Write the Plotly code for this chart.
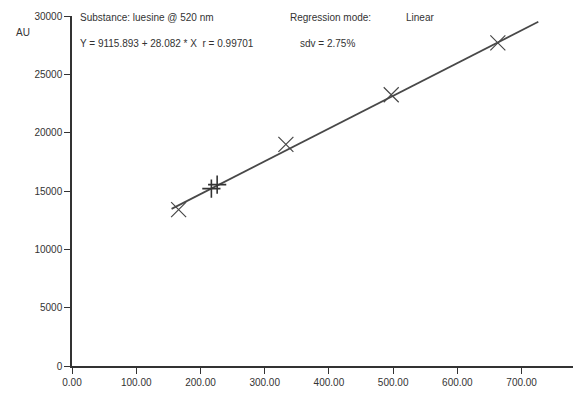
import plotly.graph_objects as go

# Calibration standards (X markers) and sample spots (+ markers)
std_amount = [166, 333, 497, 663]
std_area = [13400, 19000, 23250, 27700]
smp_amount = [217, 226]
smp_area = [15200, 15550]

# Regression line
intercept = 9115.893
slope = 28.082
line_x = [155, 726]
line_y = [intercept + slope * v for v in line_x]

x_ticks = [0, 100, 200, 300, 400, 500, 600, 700]
y_ticks = [0, 5000, 10000, 15000, 20000, 25000, 30000]

txt = "#333333"
font = dict(family="Liberation Sans, Arial, sans-serif", size=11, color=txt)

fig = go.Figure()
fig.add_trace(go.Scatter(x=line_x, y=line_y, mode="lines",
                         line=dict(color="#484848", width=1.7), hoverinfo="skip"))
fig.add_trace(go.Scatter(x=std_amount, y=std_area, mode="markers",
                         marker=dict(symbol="x-thin-open", size=15, color="#484848",
                                     line=dict(color="#484848", width=1.2))))
fig.add_trace(go.Scatter(x=smp_amount, y=smp_area, mode="markers",
                         marker=dict(symbol="cross-thin-open", size=13, color="#333333",
                                     line=dict(color="#333333", width=1.6))))

fig.update_layout(
    width=573, height=404,
    margin=dict(l=72, r=0, t=16, b=38),
    paper_bgcolor="white", plot_bgcolor="white",
    showlegend=False, font=font,
    xaxis=dict(range=[0, 780], tickvals=x_ticks,
               ticktext=[f"{v:.2f}" for v in x_ticks],
               showgrid=False, zeroline=False, showline=True,
               linecolor="#333333", linewidth=1.5, ticks="outside",
               ticklen=6, tickcolor="#333333", tickwidth=1,
               tickfont=dict(size=10, color=txt)),
    yaxis=dict(range=[0, 30000], tickvals=y_ticks,
               ticktext=[str(v) for v in y_ticks],
               showgrid=False, zeroline=False, showline=True,
               linecolor="#333333", linewidth=1.5, ticks="outside",
               ticklen=6, tickcolor="#333333", tickwidth=1,
               tickfont=dict(size=10, color=txt)),
)

ann = [
    ("AU", -0.115, 0.952, "left"),
    ("Substance: luesine @ 520 nm", 0.012, 0.995, "left"),
    ("Regression mode:", 0.432, 0.995, "left"),
    ("Linear", 0.663, 0.995, "left"),
    ("Y = 9115.893 + 28.082 * X  r = 0.99701", 0.012, 0.92, "left"),
    ("sdv = 2.75%", 0.452, 0.92, "left"),
]
for t, x, y, a in ann:
    fig.add_annotation(text=t, x=x, y=y, xref="paper", yref="paper",
                       xanchor=a, yanchor="middle", showarrow=False,
                       font=dict(size=10, color=txt))

fig.write_html("out.html")
